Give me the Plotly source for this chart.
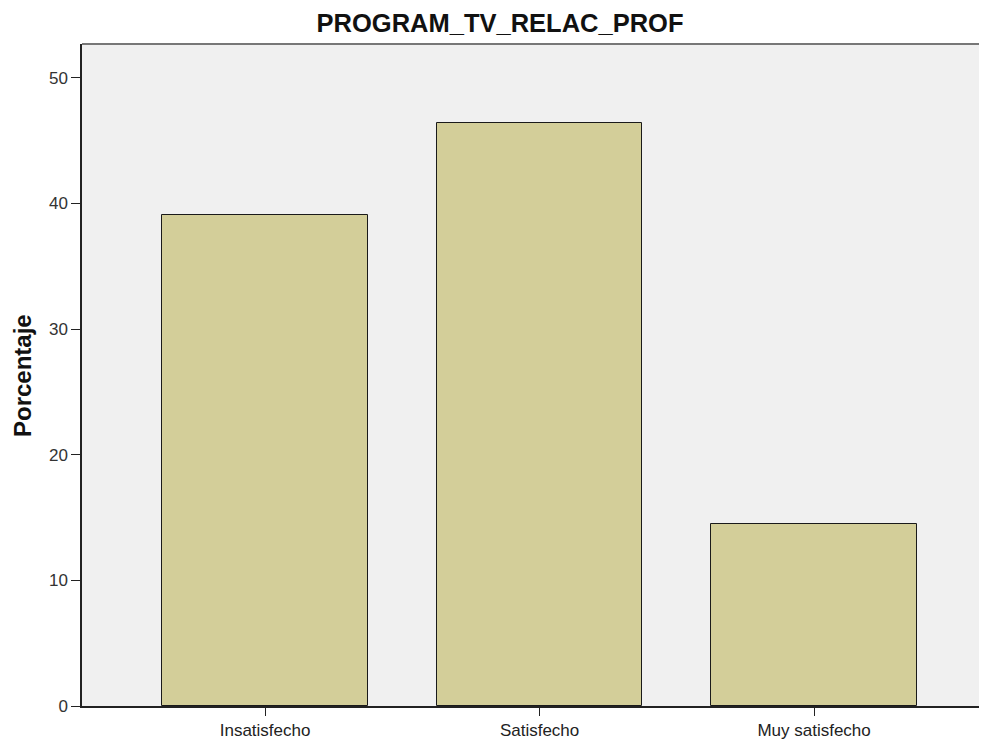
import plotly.graph_objects as go

categories = ["Insatisfecho", "Satisfecho", "Muy satisfecho"]
percentages = [39.1, 46.4, 14.5]
y_ticks = [0, 10, 20, 30, 40, 50]

fig = go.Figure()
fig.add_trace(go.Bar(
    x=list(range(len(categories))),
    y=percentages,
    width=0.749,
    marker=dict(color="#d3ce99", line=dict(color="#1a1a1a", width=1)),
    hoverinfo="skip",
))

fig.update_layout(
    width=979, height=732,
    margin=dict(l=74, r=0, t=36, b=30),
    paper_bgcolor="white",
    plot_bgcolor="#f0f0f0",
    font=dict(family="Liberation Sans, Arial, sans-serif", size=12, color="#333333"),
    title=dict(text="<b>PROGRAM_TV_RELAC_PROF</b>", x=0.5026, xref="container", xanchor="center",
               y=0.979, yref="container", yanchor="middle",
               font=dict(size=25.5, color="#111111")),
    showlegend=False,
    bargap=0,
)
fig.update_xaxes(
    range=[-0.667, 2.63],
    tickmode="array", tickvals=list(range(len(categories))), ticktext=categories,
    ticks="outside", ticklen=8, tickwidth=1, tickcolor="#222222",
    showline=True, linecolor="#222222", linewidth=1.5,
    showgrid=False, zeroline=False,
    tickfont=dict(size=17, color="#222222"),
)
fig.update_yaxes(
    range=[0, 52.7],
    tickmode="array", tickvals=y_ticks, ticktext=[str(v) for v in y_ticks],
    ticks="outside", ticklen=9, tickwidth=1, tickcolor="#222222",
    showline=True, linecolor="#222222", linewidth=1.5,
    showgrid=False, zeroline=False,
    tickfont=dict(size=17, color="#333333"),
)
fig.add_annotation(text="<b>Porcentaje</b>", xref="paper", yref="paper",
                   x=-0.0663, y=0.5, xanchor="center", yanchor="middle",
                   textangle=-90, showarrow=False,
                   font=dict(size=24, color="#111111"))
fig.add_shape(type="line", xref="paper", yref="paper", x0=0, x1=1, y0=1, y1=1,
              line=dict(color="#777777", width=2))

fig.write_html("out.html")
